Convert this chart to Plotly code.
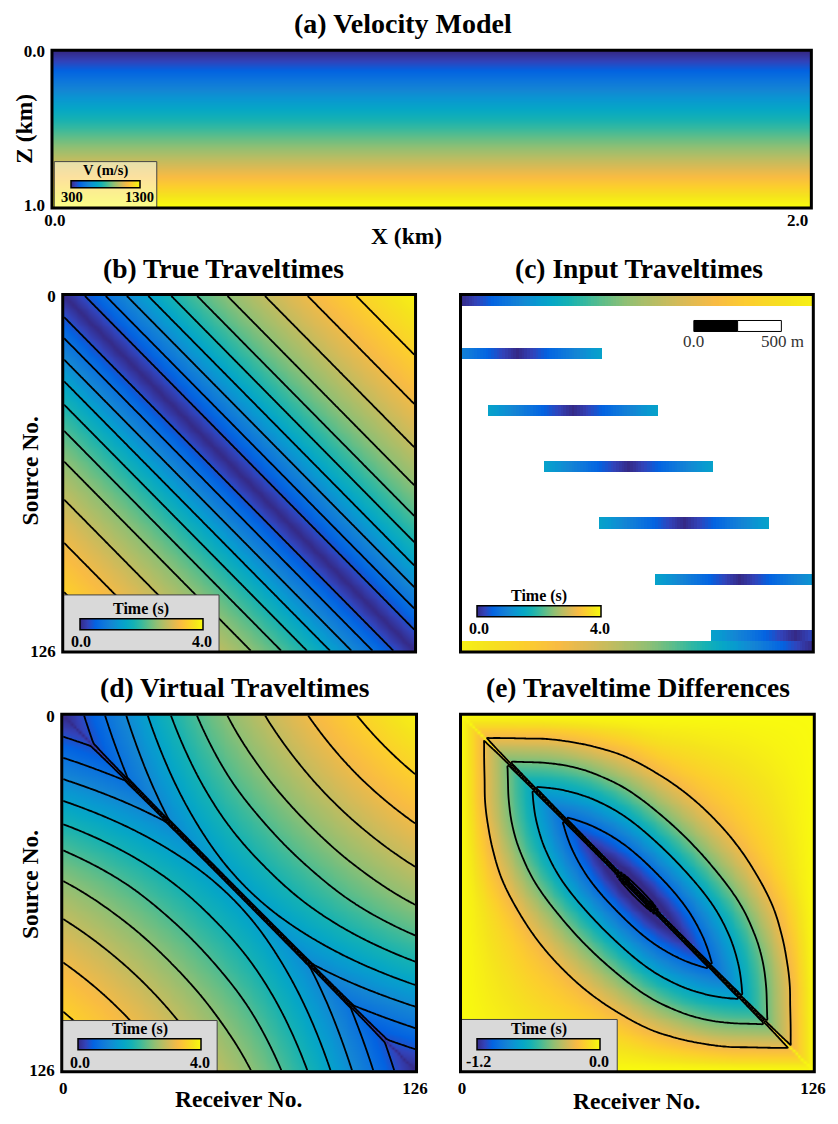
import numpy as np
import plotly.graph_objects as go

# ------------------------------------------------------------------ data
N_REC = 127                       # receivers / sources 0..126
LINE_KM = 2.0                     # survey line length
# velocity model (a): velocity versus depth
depth_km = [0.0, 0.25, 0.5, 0.75, 1.0]
velocity_ms = [300, 550, 800, 1050, 1300]
# true traveltime versus source-receiver offset (receiver units), read at the
# contour crossings of panel (b)
offset_rec = [0, 7.5, 15.0, 22.6, 30.3, 38.6, 47.9, 58.8, 72.3, 87.7, 105.2, 126]
offset_time_s = [0.0, 0.353, 0.706, 1.059, 1.412, 1.765, 2.118, 2.471, 2.824,
                 3.177, 3.530, 3.880]
# panel (c): recorded shots
full_shots = [0, 126]
partial_shots = [20, 40, 60, 80, 100, 120]
aperture_rec = 30
scalebar_m = 500
# contour levels
time_levels = [0.353 * k for k in range(1, 11)]
diff_levels = [-1.25, -1.0, -0.75, -0.5, -0.25]
# tick labels
rec_ticks = [0, 126]
rec_ticktext = ["0", "126"]
time_range = [0.0, 4.0]
time_cb_text = ["0.0", "4.0"]
diff_range = [-1.2, 0.0]
diff_cb_text = ["-1.2", "0.0"]
vel_range = [300, 1300]
vel_cb_text = ["300", "1300"]


# ------------------------------------------------------------------ fields
def monotone_cubic(xk, yk, x):
    """Fritsch-Carlson monotone cubic through the measured points."""
    xk = np.asarray(xk, float)
    yk = np.asarray(yk, float)
    h = np.diff(xk)
    d = np.diff(yk) / h
    m = np.zeros_like(yk)
    for k in range(1, len(xk) - 1):
        if d[k - 1] * d[k] > 0:
            w1 = 2 * h[k] + h[k - 1]
            w2 = h[k] + 2 * h[k - 1]
            m[k] = (w1 + w2) / (w1 / d[k - 1] + w2 / d[k])
    m[0] = ((2 * h[0] + h[1]) * d[0] - h[0] * d[1]) / (h[0] + h[1])
    m[-1] = ((2 * h[-1] + h[-2]) * d[-1] - h[-1] * d[-2]) / (h[-1] + h[-2])
    x = np.asarray(x, float)
    i = np.clip(np.searchsorted(xk, x, side="right") - 1, 0, len(h) - 1)
    t = (x - xk[i]) / h[i]
    h00 = 2 * t**3 - 3 * t**2 + 1
    h10 = t**3 - 2 * t**2 + t
    h01 = -2 * t**3 + 3 * t**2
    h11 = t**3 - t**2
    return h00 * yk[i] + h10 * h[i] * m[i] + h01 * yk[i + 1] + h11 * h[i] * m[i + 1]


rec = np.arange(N_REC)
t_off = monotone_cubic(offset_rec, offset_time_s, rec)
S, R = np.meshgrid(rec, rec, indexing="ij")
true_tt = t_off[np.abs(S - R)]
hi = np.maximum(S, R)
lo = np.minimum(S, R)
virtual_tt = t_off[hi] + t_off[N_REC - 1 - lo] - t_off[N_REC - 1]
virtual_tt[S == R] = 0.0
diff_tt = true_tt - virtual_tt

input_tt = np.full((N_REC, N_REC), np.nan)
for s in full_shots + partial_shots:
    cols = rec if s in full_shots else rec[np.abs(rec - s) <= aperture_rec]
    start = min(max(s - 1, 0), N_REC - 4)
    for row in range(start, start + 4):
        input_tt[row, cols] = true_tt[s, cols]

vel_grid = [[v, v] for v in velocity_ms]

# ------------------------------------------------------------------ style
W, H = 838, 1124
FONT = "Liberation Serif"
PARULA_RGB = [
    (0.2081, 0.1663, 0.5292), (0.1959, 0.2645, 0.7279), (0.0117, 0.3875, 0.8820),
    (0.0498, 0.4586, 0.8641), (0.0793, 0.5200, 0.8312), (0.0343, 0.5966, 0.8199),
    (0.0228, 0.6535, 0.7768), (0.0843, 0.6928, 0.7062), (0.2178, 0.7250, 0.6193),
    (0.3953, 0.7459, 0.5244), (0.5709, 0.7485, 0.4494), (0.7184, 0.7411, 0.3905),
    (0.8507, 0.7299, 0.3360), (0.9739, 0.7314, 0.2666), (0.9880, 0.8066, 0.1794),
    (0.9589, 0.8949, 0.1132), (0.9763, 0.9831, 0.0538)]
PARULA = [[i / (len(PARULA_RGB) - 1),
           "rgb(%d,%d,%d)" % tuple(round(255 * c) for c in rgb)]
          for i, rgb in enumerate(PARULA_RGB)]

ann = []


def txt(x, y, text, size, bold=True, angle=0, color="black"):
    ann.append(dict(x=x / W, y=1 - y / H, xref="paper", yref="paper", text=text,
                    showarrow=False, textangle=angle, xanchor="center", yanchor="middle",
                    font=dict(family=FONT, size=size, color=color,
                              weight="bold" if bold else "normal")))


def px_x(x0, x1):
    return [x0 / W, x1 / W]


def px_y(y0, y1):
    return [1 - y1 / H, 1 - y0 / H]


def colorbar(cx, cy, lenpx, thick, title, tt, fs, title_dy, label_dy):
    """Horizontal inset colour bar; title and end labels set as text."""
    half = lenpx / 2
    txt(cx, cy - title_dy, title, fs)
    txt(cx - half, cy + label_dy, tt[0], fs)
    txt(cx + half, cy + label_dy, tt[1], fs)
    return dict(orientation="h", x=cx / W, y=1 - cy / H, xanchor="center",
                yanchor="middle", len=lenpx, lenmode="pixels", thickness=thick,
                thicknessmode="pixels", outlinewidth=1.5, outlinecolor="black",
                xpad=0, ypad=0, showticklabels=False, ticks="",
                bgcolor="rgba(0,0,0,0)", borderwidth=0)


fig = go.Figure()

# (a) velocity model
fig.add_trace(go.Heatmap(z=vel_grid, x=[0, LINE_KM], y=depth_km, colorscale=PARULA,
                         zmin=vel_range[0], zmax=vel_range[1], zsmooth="best",
                         xaxis="x", yaxis="y", hoverinfo="skip",
                         colorbar=colorbar(100, 179.5, 69, 7, "V (m/s)", vel_cb_text,
                                           14.5, 14, 12)))
# (b) true traveltimes
fig.add_trace(go.Heatmap(z=true_tt, x=rec, y=rec, colorscale=PARULA, zmin=time_range[0],
                         zmax=time_range[1], zsmooth="best", xaxis="x2", yaxis="y2",
                         hoverinfo="skip",
                         colorbar=colorbar(136.5, 626.5, 123, 11, "Time (s)",
                                           time_cb_text, 16, 16.5, 17)))
fig.add_trace(go.Contour(z=true_tt, x=rec, y=rec, showscale=False, hoverinfo="skip",
                         contours=dict(coloring="none", start=time_levels[0],
                                       end=time_levels[-1] + 1e-6,
                                       size=time_levels[1] - time_levels[0]),
                         line=dict(color="black", width=1.8), xaxis="x2", yaxis="y2"))
# (c) input traveltimes
fig.add_trace(go.Heatmap(z=input_tt, x=rec, y=rec, colorscale=PARULA, zmin=time_range[0],
                         zmax=time_range[1], xaxis="x3", yaxis="y3", hoverinfo="skip",
                         colorbar=colorbar(543.7, 613.3, 124, 11, "Time (s)",
                                           time_cb_text, 16, 16.5, 17)))
# (d) virtual traveltimes
fig.add_trace(go.Heatmap(z=virtual_tt, x=rec, y=rec, colorscale=PARULA,
                         zmin=time_range[0], zmax=time_range[1], zsmooth="best",
                         xaxis="x4", yaxis="y4", hoverinfo="skip",
                         colorbar=colorbar(135, 1053.3, 123, 11, "Time (s)",
                                           time_cb_text, 16, 16.5, 17)))
fig.add_trace(go.Contour(z=virtual_tt, x=rec, y=rec, showscale=False, hoverinfo="skip",
                         contours=dict(coloring="none", start=time_levels[0],
                                       end=time_levels[-1] + 1e-6,
                                       size=time_levels[1] - time_levels[0]),
                         line=dict(color="black", width=1.8), xaxis="x4", yaxis="y4"))
# (e) traveltime differences
fig.add_trace(go.Heatmap(z=diff_tt, x=rec, y=rec, colorscale=PARULA, zmin=diff_range[0],
                         zmax=diff_range[1], zsmooth="best", xaxis="x5", yaxis="y5",
                         hoverinfo="skip",
                         colorbar=colorbar(543.3, 1053, 123, 11, "Time (s)",
                                           diff_cb_text, 16, 16.5, 17)))
fig.add_trace(go.Contour(z=diff_tt, x=rec, y=rec, showscale=False, hoverinfo="skip",
                         contours=dict(coloring="none", start=diff_levels[0],
                                       end=diff_levels[-1] + 1e-6,
                                       size=diff_levels[1] - diff_levels[0]),
                         line=dict(color="black", width=1.8), xaxis="x5", yaxis="y5"))


def axis(domain, rng, tv=None, tt=None, standoff=4, fs=16, anchor=None):
    d = dict(domain=domain, range=rng, showgrid=False, zeroline=False, showline=False,
             ticks="", fixedrange=True, anchor=anchor)
    if tv is None:
        d["showticklabels"] = False
    else:
        d.update(tickvals=tv, ticktext=tt, ticklabelstandoff=standoff,
                 tickfont=dict(family=FONT, size=fs, color="black", weight="bold"))
    return d


REC_RANGE = [-0.5, 126.5]
REC_RANGE_R = [126.5, -0.5]
pan = {
    "a": (45, 822, 43, 203),
    "b": (56, 417, 291, 654),
    "c": (463, 824, 291, 654),
    "d": (55, 418, 717, 1080),
    "e": (463, 825, 717, 1080),
}
fig.update_layout(
    xaxis=axis(px_x(*pan["a"][:2]), [-0.008, 2.037], [0, 2.0], ["0.0", "2.0"], 0, 17, "y"),
    yaxis=axis(px_y(*pan["a"][2:]), [1.019, -0.006], [0, 1.0], ["0.0", "1.0"], 6, 17, "x"),
    xaxis2=axis(px_x(*pan["b"][:2]), REC_RANGE, anchor="y2"),
    yaxis2=axis(px_y(*pan["b"][2:]), REC_RANGE_R, rec_ticks, rec_ticktext, 6, 17, "x2"),
    xaxis3=axis(px_x(*pan["c"][:2]), REC_RANGE, anchor="y3"),
    yaxis3=axis(px_y(*pan["c"][2:]), REC_RANGE_R, anchor="x3"),
    xaxis4=axis(px_x(*pan["d"][:2]), REC_RANGE, rec_ticks, rec_ticktext, 4, 17, "y4"),
    yaxis4=axis(px_y(*pan["d"][2:]), REC_RANGE_R, rec_ticks, rec_ticktext, 6, 17, "x4"),
    xaxis5=axis(px_x(*pan["e"][:2]), REC_RANGE, rec_ticks, rec_ticktext, 4, 17, "y5"),
    yaxis5=axis(px_y(*pan["e"][2:]), REC_RANGE_R, anchor="x5"),
)

shapes = []
# inset colour-bar boxes (domain fractions)
boxes = [
    ("x", "y", 0.003, 0.138, 0.0, 0.294, "rgba(255,255,235,0.55)"),
    ("x2", "y2", 0.0, 0.443, 0.0, 0.16, "#d9d9d9"),
    ("x4", "y4", 0.0, 0.438, 0.0, 0.143, "#d9d9d9"),
    ("x5", "y5", 0.0, 0.443, 0.0, 0.146, "#d9d9d9"),
]
for xr, yr, x0, x1, y0, y1, fc in boxes:
    shapes.append(dict(type="rect", xref=xr + " domain", yref=yr + " domain",
                       x0=x0, x1=x1, y0=y0, y1=y1, fillcolor=fc,
                       line=dict(color="#444", width=1), layer="above"))
# scale bar in (c)
m_per_rec = LINE_KM * 1000 / (N_REC - 1)
sb_len = scalebar_m / m_per_rec
sb_x0 = 83.5
shapes.append(dict(type="rect", xref="x3", yref="y3", x0=sb_x0, x1=sb_x0 + sb_len / 2,
                   y0=8.7, y1=12.6, fillcolor="black", line=dict(color="black", width=1),
                   layer="above"))
shapes.append(dict(type="rect", xref="x3", yref="y3", x0=sb_x0 + sb_len / 2,
                   x1=sb_x0 + sb_len, y0=8.7, y1=12.6, fillcolor="white",
                   line=dict(color="black", width=1), layer="above"))
# panel frames
for xr, yr in [("x", "y"), ("x2", "y2"), ("x3", "y3"), ("x4", "y4"), ("x5", "y5")]:
    shapes.append(dict(type="rect", xref=xr + " domain", yref=yr + " domain",
                       x0=0, x1=1, y0=0, y1=1, line=dict(color="black", width=3),
                       layer="above"))

txt(404, 16, "(a) Velocity Model", 28)
txt(220, 264, "(b) True Traveltimes", 27.5)
txt(646, 264, "(c) Input Traveltimes", 27.5)
txt(232, 690, "(d) Virtual Traveltimes", 27.5)
txt(645, 690, "(e) Traveltime Differences", 27.5)
txt(408, 232, "X (km)", 23.5)
txt(17, 123, "Z (km)", 23.5, angle=-90)
txt(22, 470, "Source No.", 23.5, angle=-90)
txt(22, 890, "Source No.", 23.5, angle=-90)
txt(236, 1108, "Receiver No.", 23.5)
txt(643, 1110, "Receiver No.", 23.5)
ann.append(dict(x=sb_x0, y=16.3, xref="x3", yref="y3", text="0.0", showarrow=False,
                xanchor="center", yanchor="middle",
                font=dict(family=FONT, size=17, color="#333")))
ann.append(dict(x=sb_x0 + sb_len + 0.5, y=16.3, xref="x3", yref="y3", text="500 m",
                showarrow=False, xanchor="center", yanchor="middle",
                font=dict(family=FONT, size=17, color="#333")))

fig.update_layout(width=W, height=H, margin=dict(l=0, r=0, t=0, b=0),
                  paper_bgcolor="white", plot_bgcolor="white", showlegend=False,
                  shapes=shapes, annotations=ann)
fig.write_html("out.html")
